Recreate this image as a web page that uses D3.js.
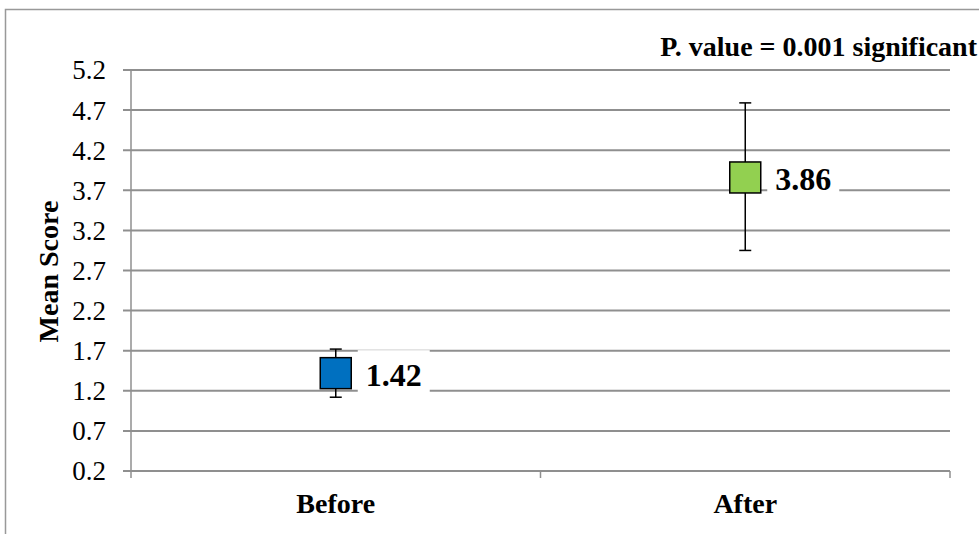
<!DOCTYPE html>
<html><head><meta charset="utf-8">
<script src="https://cdn.jsdelivr.net/npm/d3@7/dist/d3.min.js"></script>
<style>body{margin:0;background:#fff}svg{display:block}</style>
</head><body>
<script>
const categories = ["Before", "After"];
const means = [1.42, 3.86];
const errorPlus = [0.30, 0.93];
const errorMinus = [0.30, 0.91];
const colors = ["#0070C0", "#92D050"];
const yTicks = [0.2, 0.7, 1.2, 1.7, 2.2, 2.7, 3.2, 3.7, 4.2, 4.7, 5.2];
const title = "P. value = 0.001 significant";
const yLabel = "Mean Score";

const W = 979, H = 534;
const m = {left: 131, right: 29, top: 70, bottom: 63};
const svg = d3.select("body").append("svg").attr("width", W).attr("height", H);
const font = "'Liberation Serif','Times New Roman',serif";

// frame
svg.append("path").attr("d", `M5.5,${H} V9.5 H${W}`).attr("fill","none").attr("stroke","#999").attr("stroke-width",1.5);

const x = d3.scaleBand().domain(categories).range([m.left, W - m.right]);
const y = d3.scaleLinear().domain([0.2, 5.2]).range([H - m.bottom, m.top]);

// gridlines
svg.append("g").selectAll("line").data(yTicks).join("line")
  .attr("x1", m.left - 8).attr("x2", W - m.right)
  .attr("y1", d => y(d)).attr("y2", d => y(d))
  .attr("stroke", "#8f8f8f").attr("stroke-width", 2);

// y axis line
svg.append("line").attr("x1", m.left).attr("x2", m.left).attr("y1", y(5.2)).attr("y2", y(0.2))
  .attr("stroke", "#8f8f8f").attr("stroke-width", 1.5);

// x ticks
const xt = [m.left, ...categories.map(c => x(c) + x.bandwidth())];
svg.append("g").selectAll("line").data(xt).join("line")
  .attr("x1", d => d).attr("x2", d => d).attr("y1", y(0.2)).attr("y2", y(0.2) + 7)
  .attr("stroke", "#8f8f8f").attr("stroke-width", 1.5);

// y tick labels
svg.append("g").selectAll("text").data(yTicks).join("text")
  .attr("x", m.left - 25).attr("y", d => y(d)).attr("dy", "0.35em")
  .attr("text-anchor", "end").attr("font-family", font).attr("font-size", 27)
  .text(d => d.toFixed(1));

// category labels
svg.append("g").selectAll("text").data(categories).join("text")
  .attr("x", d => x(d) + x.bandwidth()/2).attr("y", 513)
  .attr("text-anchor", "middle").attr("font-family", font).attr("font-size", 28).attr("font-weight", "bold")
  .text(d => d);

// y label
svg.append("text").attr("transform", `translate(58,${(y(0.2)+y(5.2))/2 + 1}) rotate(-90)`)
  .attr("text-anchor", "middle").attr("font-family", font).attr("font-size", 28).attr("font-weight", "bold")
  .text(yLabel);

// title
svg.append("text").attr("x", 977).attr("y", 56).attr("text-anchor", "end")
  .attr("font-family", font).attr("font-size", 28).attr("font-weight", "bold").text(title);

const data = categories.map((c, i) => ({c, v: means[i], ep: errorPlus[i], em: errorMinus[i], col: colors[i]}));
const g = svg.append("g");
data.forEach(d => {
  const cx = x(d.c) + x.bandwidth()/2;
  const cy = y(d.v);
  // label background + text
  g.append("rect").attr("x", cx + 22).attr("y", cy - 23).attr("width", 72).attr("height", 44).attr("fill", "#fff");
  g.append("text").attr("x", cx + 30).attr("y", cy + 13)
    .attr("font-family", font).attr("font-size", 32).attr("font-weight", "bold").text(d.v.toFixed(2));
  // error bar
  g.append("line").attr("x1", cx).attr("x2", cx).attr("y1", y(d.v + d.ep)).attr("y2", y(d.v - d.em))
    .attr("stroke", "#000").attr("stroke-width", 1.5);
  [d.v + d.ep, d.v - d.em].forEach(e => g.append("line").attr("x1", cx - 6).attr("x2", cx + 6)
    .attr("y1", y(e)).attr("y2", y(e)).attr("stroke", "#000").attr("stroke-width", 1.5));
  // marker
  g.append("rect").attr("x", cx - 15.5).attr("y", cy - 15.5).attr("width", 31).attr("height", 31)
    .attr("fill", d.col).attr("stroke", "#000").attr("stroke-width", 1.5);
});
</script>
</body></html>
